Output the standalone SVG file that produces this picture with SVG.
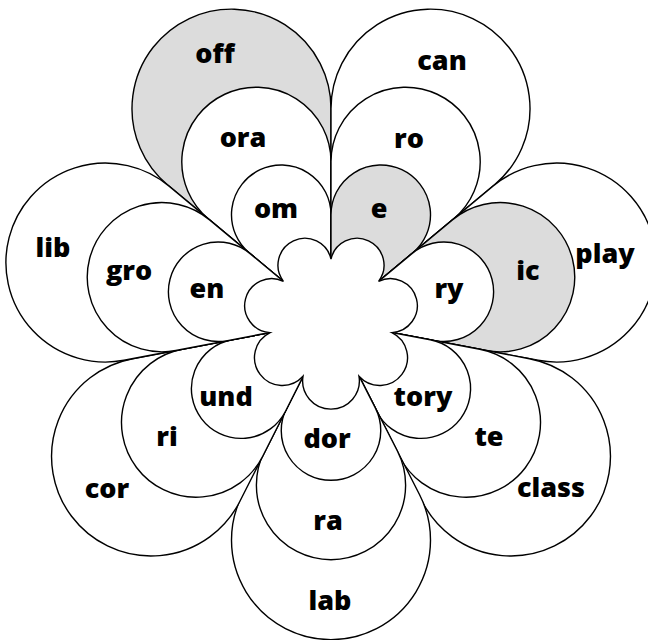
<svg xmlns="http://www.w3.org/2000/svg" width="648" height="640" viewBox="0 0 648 640">
<style>
.p{fill:#ffffff;stroke:#000;stroke-width:1.4;stroke-linejoin:miter}
.g{fill:#dcdcdc}
.t{font-family:"Open Sans","Liberation Sans",sans-serif;font-weight:800;font-size:27px;fill:#000;text-anchor:middle}
</style>
<rect width="648" height="640" fill="#ffffff"/>
<g id="petal-top-left">
<g id="off"><path class="p g" d="M331 321 L167.7 185 A99.5 99.5 0 1 1 331 108.5 Z"/><text class="t" x="215" y="63">off</text></g>
<g id="ora"><path class="p" d="M331 321 L208.5 219 A74.6 74.6 0 1 1 331 161.6 Z"/><text class="t" x="243" y="147">ora</text></g>
<g id="om"><path class="p" d="M331 321 L249.4 253 A49.75 49.75 0 1 1 331 214.75 Z"/><text class="t" x="276" y="218">om</text></g>
</g>
<g id="petal-top-right">
<g id="can"><path class="p" d="M331 321 L331 108.5 A99.5 99.5 0 1 1 494.3 185 Z"/><text class="t" x="442" y="70">can</text></g>
<g id="ro"><path class="p" d="M331 321 L331 161.6 A74.6 74.6 0 1 1 453.5 219 Z"/><text class="t" x="409" y="148">ro</text></g>
<g id="e"><path class="p g" d="M331 321 L331 214.75 A49.75 49.75 0 1 1 412.6 253 Z"/><text class="t" x="379" y="218">e</text></g>
</g>
<g id="petal-right">
<g id="play"><path class="p" d="M331 321 L492.9 186.1 A99.5 99.5 0 1 1 538 360.3 Z"/><text class="t" x="605" y="263">play</text></g>
<g id="ic"><path class="p g" d="M331 321 L452.4 219.9 A74.6 74.6 0 1 1 486.2 350.5 Z"/><text class="t" x="528" y="280">ic</text></g>
<g id="ry"><path class="p" d="M331 321 L411.9 253.6 A49.75 49.75 0 1 1 434.5 340.6 Z"/><text class="t" x="449" y="298">ry</text></g>
</g>
<g id="petal-bottom-right">
<g id="class"><path class="p" d="M331 321 L529.4 358.7 A99.5 99.5 0 1 1 422.1 501.3 Z"/><text class="t" x="551" y="497">class</text></g>
<g id="te"><path class="p" d="M331 321 L479.8 349.3 A74.6 74.6 0 1 1 399.3 456.2 Z"/><text class="t" x="489" y="446">te</text></g>
<g id="tory"><path class="p" d="M331 321 L430.2 339.8 A49.75 49.75 0 1 1 376.5 411.2 Z"/><text class="t" x="423" y="406">tory</text></g>
</g>
<g id="petal-bottom">
<g id="lab"><path class="p" d="M331 321 L419.6 494.8 A99.5 99.5 0 1 1 242.4 494.8 Z"/><text class="t" x="330" y="610">lab</text></g>
<g id="ra"><path class="p" d="M331 321 L397.5 451.3 A74.6 74.6 0 1 1 264.5 451.3 Z"/><text class="t" x="328" y="530">ra</text></g>
<g id="dor"><path class="p" d="M331 321 L375.3 407.9 A49.75 49.75 0 1 1 286.7 407.9 Z"/><text class="t" x="327" y="448">dor</text></g>
</g>
<g id="petal-bottom-left">
<g id="cor"><path class="p" d="M331 321 L239.9 501.3 A99.5 99.5 0 1 1 132.6 358.7 Z"/><text class="t" x="107" y="498">cor</text></g>
<g id="ri"><path class="p" d="M331 321 L262.7 456.2 A74.6 74.6 0 1 1 182.2 349.3 Z"/><text class="t" x="167" y="446">ri</text></g>
<g id="und"><path class="p" d="M331 321 L285.5 411.2 A49.75 49.75 0 1 1 231.8 339.8 Z"/><text class="t" x="226" y="406">und</text></g>
</g>
<g id="petal-left">
<g id="lib"><path class="p" d="M331 321 L124 360.3 A99.5 99.5 0 1 1 169.1 186.1 Z"/><text class="t" x="53" y="257">lib</text></g>
<g id="gro"><path class="p" d="M331 321 L175.8 350.5 A74.6 74.6 0 1 1 209.6 219.9 Z"/><text class="t" x="129" y="280">gro</text></g>
<g id="en"><path class="p" d="M331 321 L227.5 340.6 A49.75 49.75 0 1 1 250.1 253.6 Z"/><text class="t" x="207" y="298">en</text></g>
</g>
<g id="center">
<path class="p" d="M331 259 A26.86 26.86 0 1 1 378.6 281.3 A27.01 27.01 0 1 1 391.9 332.6 A27.85 27.85 0 1 1 359 376.3 A28.36 28.36 0 1 1 303 376.3 A27.85 27.85 0 1 1 270.1 332.6 A27.01 27.01 0 1 1 283.4 281.3 A26.86 26.86 0 1 1 331 259 Z"/>
</g>
</svg>
